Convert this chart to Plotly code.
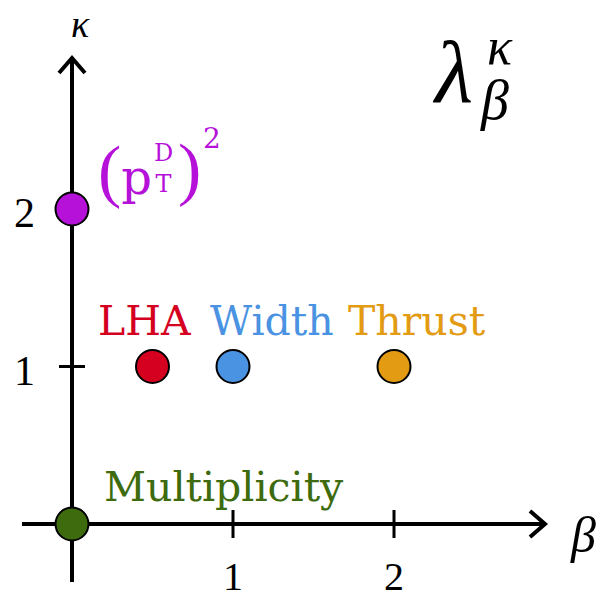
import plotly.graph_objects as go

# ---- data ----
names = ["Multiplicity", "(p_T^D)^2", "LHA", "Width", "Thrust"]
beta = [0, 0, 0.5, 1, 2]
kappa = [0, 2, 1, 1, 1]
colors = ["#3d6b0e", "#b511d9", "#d5001f", "#4a92e2", "#e29b12"]
x_ticks = [1, 2]
y_ticks = [1, 2]

W, H = 600, 601
PX_X = 161.0   # pixels per beta unit
PX_Y = 157.5   # pixels per kappa unit
X0, Y0 = 72, 524  # pixel position of origin
xr = [-X0 / PX_X, (W - X0) / PX_X]
yr = [(Y0 - H) / PX_Y, Y0 / PX_Y]

def dx(p):
    return p / PX_X

def dy(p):
    return p / PX_Y

def px(x):
    return (x - X0) / PX_X

def py(y):
    return (Y0 - y) / PX_Y

SERIF = "Liberation Serif"
LABEL = "DejaVu Serif"
GREEK = "Liberation Serif"
fig = go.Figure()

shapes = []
LW = 4
x_end = px(545)
y_end = py(58)
common = dict(xref="x", yref="y", layer="below")
shapes.append(dict(type="line", x0=px(22), x1=x_end, y0=0, y1=0,
                   line=dict(color="black", width=LW), **common))
shapes.append(dict(type="line", x0=0, x1=0, y0=py(582), y1=y_end,
                   line=dict(color="black", width=LW), **common))
shapes.append(dict(type="path",
                   path=f"M {x_end - dx(15)} {dy(13)} L {x_end} 0 L {x_end - dx(15)} {-dy(13)}",
                   line=dict(color="black", width=LW), **common))
shapes.append(dict(type="path",
                   path=f"M {-dx(13)} {y_end - dy(15)} L 0 {y_end} L {dx(13)} {y_end - dy(15)}",
                   line=dict(color="black", width=LW), **common))
for t in x_ticks:
    shapes.append(dict(type="line", x0=t, x1=t, y0=-dy(14), y1=dy(14),
                       line=dict(color="black", width=3), **common))
for t in y_ticks:
    shapes.append(dict(type="line", x0=-dx(13), x1=dx(13), y0=t, y1=t,
                       line=dict(color="black", width=3), **common))

fig.add_trace(go.Scatter(x=beta, y=kappa, mode="markers", hoverinfo="text", text=names,
                         marker=dict(size=33, color=colors, line=dict(color="black", width=2))))

ann = []
def A(x, y, text, size, color="black", italic=False, xa="center", ya="middle", xs=0, ys=0, fam=SERIF):
    t = f"<i>{text}</i>" if italic else text
    ann.append(dict(x=x, y=y, xref="x", yref="y", text=t, showarrow=False,
                    font=dict(family=fam, size=size, color=color), borderpad=0,
                    xanchor=xa, yanchor=ya, xshift=xs, yshift=ys))

# tick labels
for t in x_ticks:
    A(t, 0, str(t), 40, ys=-52)
for t in y_ticks:
    A(0, t, str(t), 42, xa="right", xs=-36, ys=-4)

# axis labels
A(px(80), py(24), "κ", 38, italic=True, fam=GREEK)
A(px(583), py(535), "β", 50, italic=True, fam=GREEK)

# title lambda_beta^kappa
A(px(452), py(72), "λ", 88, italic=True, fam=GREEK)
A(px(500), py(46), "κ", 52, italic=True, fam=GREEK)
A(px(494), py(100), "β", 56, italic=True, fam=GREEK)

# point labels
lab_y = 1 + dy(46)
A(beta[2], lab_y, names[2], 41, colors[2], xs=-8, fam=LABEL)
A(beta[3], lab_y, names[3], 41, colors[3], xs=39, fam=LABEL)
A(beta[4], lab_y, names[4], 41, colors[4], xs=23, fam=LABEL)
A(px(224), py(487), names[0], 41, colors[0], fam=LABEL)

# (p_T^D)^2 label
c = colors[1]
A(px(97), py(170),
  "<span style='font-family:Liberation Serif;font-size:70px'>(</span>p", 48, c, xa="left", fam=LABEL)
A(px(163), py(168), "D<br>T", 24, c, fam=LABEL)
A(px(189), py(168), ")", 70, c, fam=SERIF)
A(px(212), py(138), "2", 28, c, fam=LABEL)

fig.update_layout(
    width=W, height=H, margin=dict(l=0, r=0, t=0, b=0),
    paper_bgcolor="white", plot_bgcolor="white", showlegend=False,
    xaxis=dict(range=xr, visible=False, fixedrange=True),
    yaxis=dict(range=yr, visible=False, fixedrange=True),
    shapes=shapes, annotations=ann,
)
fig.write_html("out.html")
